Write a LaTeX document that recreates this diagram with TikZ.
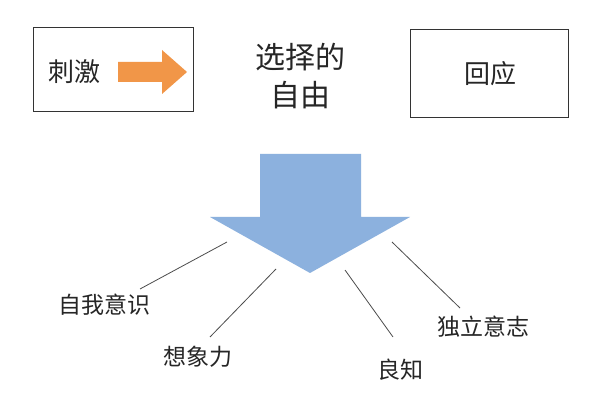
\documentclass[tikz,border=0pt]{standalone}
\usepackage{fontspec}
\setmainfont{Noto Sans CJK SC}
\definecolor{arrowblue}{RGB}{140,177,222}
\definecolor{arroworange}{RGB}{241,150,72}
\begin{document}
\begin{tikzpicture}[x=1pt,y=-1pt,
  box/.style={draw=black!80,line width=1pt,fill=white},
  lbl/.style={font=\fontsize{23}{27}\selectfont,text=black!85},
  big/.style={font=\fontsize{30}{38}\selectfont,align=center,text=black!85},
  conn/.style={draw=black!70,line width=0.8pt}]
\useasboundingbox (0,0) rectangle (600,411);
\fill[white] (0,0) rectangle (600,411);
\draw[box] (33,28) rectangle (193,112);
\node[lbl,font=\fontsize{26}{30}\selectfont] (ci) at (74,72) {刺激};
\fill[arroworange]
  (118,62) -- (162,62) -- (162,50) -- (187,72) -- (162,94) -- (162,82) -- (118,82) -- cycle;
\node[big] (xz) at (300,76) {选择的\\自由};
\draw[box] (410,30) rectangle (568,118);
\node[lbl,font=\fontsize{26}{30}\selectfont] (hy) at (490,74) {回应};
\fill[arrowblue]
  (260,154) -- (361,154) -- (361,217) -- (410,217) -- (310,273) -- (210,217) -- (260,217) -- cycle;
\coordinate (a1) at (227,242); \coordinate (a2) at (276,269);
\coordinate (a3) at (345,270); \coordinate (a4) at (392,242);
\node[lbl] (t1) at (104,305) {自我意识};
\node[lbl] (t2) at (198,357) {想象力};
\node[lbl] (t3) at (400,370) {良知};
\node[lbl] (t4) at (483,327) {独立意志};
\draw[conn] (a1) -- (140,289);
\draw[conn] (a2) -- (210,337);
\draw[conn] (a3) -- (393,337);
\draw[conn] (a4) -- (460,308);
\end{tikzpicture}
\end{document}
